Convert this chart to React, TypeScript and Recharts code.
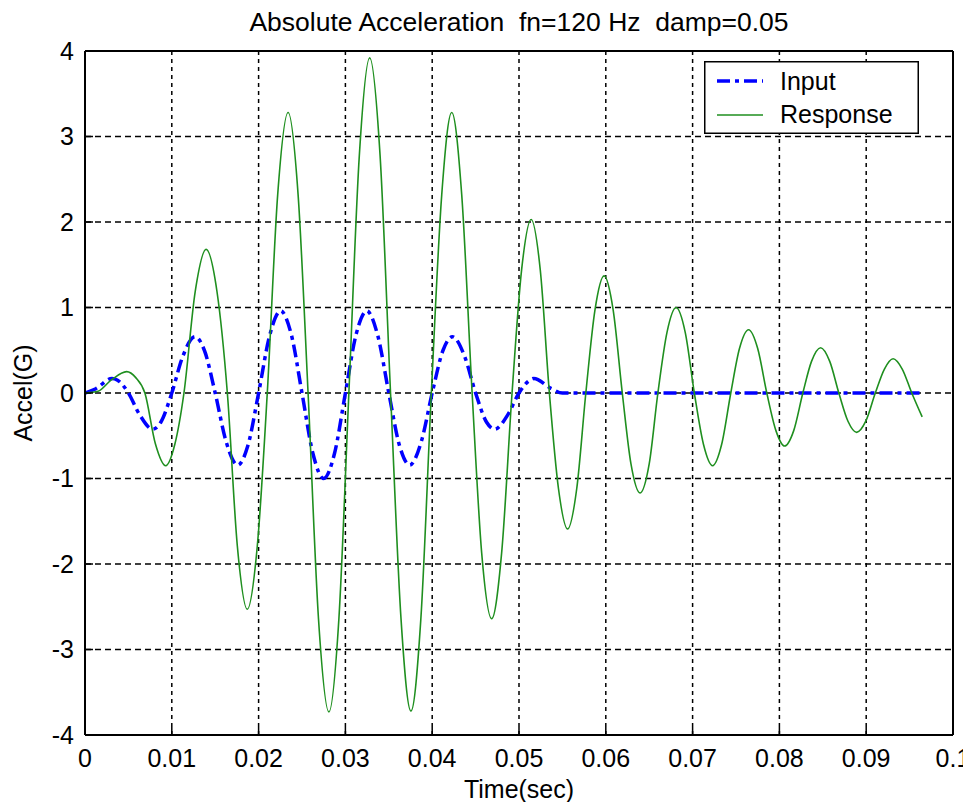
import React from 'react';
import { LineChart, Line, XAxis, YAxis, CartesianGrid, Legend } from 'recharts';

// ---- data (time in seconds, acceleration in G) ----
const inputTime = [
  0, 0.00125, 0.0031, 0.00375, 0.005, 0.00625, 0.0078, 0.00875, 0.01,
  0.01125, 0.01267, 0.01375, 0.015, 0.01625, 0.01759, 0.01875, 0.02,
  0.02125, 0.02254, 0.02375, 0.025, 0.02625, 0.0275, 0.02875, 0.03,
  0.03125, 0.03246, 0.03375, 0.035, 0.03625, 0.03741, 0.03875, 0.04,
  0.04125, 0.04233, 0.04375, 0.045, 0.04625, 0.0472, 0.04875, 0.05,
  0.05125, 0.0517, 0.05375, 0.055, 0.0964,
];
const inputAccel = [
  0, 0.05, 0.17, 0.15, 0, -0.247, -0.423, -0.339, 0,
  0.424, 0.658, 0.5, 0, -0.566, -0.843, -0.621, 0,
  0.663, 0.96, 0.691, 0, -0.705, -1.0, -0.705, 0,
  0.691, 0.96, 0.663, 0, -0.621, -0.843, -0.566, 0,
  0.5, 0.658, 0.424, 0, -0.339, -0.423, -0.247, 0,
  0.15, 0.17, 0.05, 0, 0,
];

const responseTime = [
  0, 0.0015, 0.003, 0.0048, 0.00585, 0.0069, 0.0081, 0.0093, 0.01035,
  0.0114, 0.0127, 0.01395, 0.0152, 0.0164, 0.01755, 0.0187, 0.01985,
  0.021, 0.0222, 0.0234, 0.02455, 0.0257, 0.0269, 0.0281, 0.02925,
  0.0304, 0.0316, 0.0328, 0.034, 0.0352, 0.0364, 0.03755, 0.0387,
  0.0399, 0.0411, 0.04225, 0.0434, 0.0446, 0.0457, 0.04685, 0.048,
  0.0492, 0.0503, 0.0514, 0.05245, 0.0535, 0.05455, 0.0556, 0.05665,
  0.0577, 0.05875, 0.0598, 0.06085, 0.0619, 0.0629, 0.06395, 0.065,
  0.066, 0.06705, 0.0681, 0.06915, 0.0702, 0.07125, 0.0723, 0.07335,
  0.0744, 0.0754, 0.07645, 0.0775, 0.07855, 0.0796, 0.0806, 0.08165,
  0.0827, 0.0837, 0.08475, 0.0858, 0.08685, 0.0879, 0.0889, 0.08995,
  0.09105, 0.0921, 0.0931, 0.09415, 0.09525, 0.09645,
];
const responseAccel = [
  0, 0.02, 0.15, 0.25, 0.18, 0, -0.59, -0.85, -0.6,
  0, 1.19, 1.68, 1.19, 0, -1.79, -2.53, -1.79,
  0, 2.32, 3.28, 2.32, 0, -2.64, -3.73, -2.64,
  0, 2.77, 3.92, 2.77, 0, -2.63, -3.72, -2.63,
  0, 2.32, 3.28, 2.32, 0, -1.87, -2.64, -1.87,
  0, 1.44, 2.03, 1.44, 0, -1.12, -1.59, -1.12,
  0, 0.97, 1.37, 0.97, 0, -0.83, -1.17, -0.83,
  0, 0.71, 1.0, 0.71, 0, -0.6, -0.85, -0.6,
  0, 0.52, 0.74, 0.52, 0, -0.44, -0.62, -0.44,
  0, 0.37, 0.53, 0.37, 0, -0.33, -0.46, -0.33,
  0, 0.28, 0.4, 0.28, 0, -0.28,
];

const xTicks = [0, 0.01, 0.02, 0.03, 0.04, 0.05, 0.06, 0.07, 0.08, 0.09, 0.1];
const yTicks = [-4, -3, -2, -1, 0, 1, 2, 3, 4];

const seriesNames = ['Input', 'Response'];
const titleText = 'Absolute Acceleration \u00A0fn=120 Hz \u00A0damp=0.05';
const xLabel = 'Time(sec)';
const yLabel = 'Accel(G)';

const inputData = inputTime.map((t, i) => ({ t, v: inputAccel[i] }));
const responseData = responseTime.map((t, i) => ({ t, v: responseAccel[i] }));

const FONT = "'Liberation Sans', Arial, Helvetica, sans-serif";
const BLUE = '#0000ff';
const GREEN = '#1f8f1f';
const INPUT_DASH = '13 5 4 5';

const LegendBox = () => (
  <svg width={215} height={73} style={{ display: 'block' }}>
    <rect x={0.75} y={0.75} width={213.5} height={71.5} fill="#fff" stroke="#000" strokeWidth={1.5} />
    <line x1={13} x2={59} y1={20} y2={20} stroke={BLUE} strokeWidth={3.5} strokeDasharray={INPUT_DASH} />
    <text x={76} y={29} fontSize={25} fontFamily={FONT} fill="#000">{seriesNames[0]}</text>
    <line x1={13} x2={59} y1={54} y2={54} stroke={GREEN} strokeWidth={1.5} />
    <text x={76} y={62} fontSize={25} fontFamily={FONT} fill="#000">{seriesNames[1]}</text>
  </svg>
);

export default function App() {
  const tickStyle = { fill: '#000', fontSize: 25 };
  const axisLineStyle = { stroke: '#000', strokeWidth: 2 };
  const tickLineStyle = { stroke: '#000', strokeWidth: 1.5 };
  return (
    <div style={{ fontFamily: FONT, width: 963, height: 794, background: '#fff' }}>
      <LineChart width={963} height={794} margin={{ top: 42, right: 17, bottom: 37, left: 17 }}>
        <CartesianGrid xAxisId={0} yAxisId={0} horizontal={true} vertical={false} stroke="#000" strokeWidth={1.5} strokeDasharray="6 4" />
        <CartesianGrid xAxisId={0} yAxisId={0} horizontal={false} vertical={true} stroke="#000" strokeWidth={1.5} strokeDasharray="4 4" />
        <XAxis
          xAxisId={0}
          dataKey="t"
          type="number"
          domain={[0, 0.1]}
          ticks={xTicks}
          interval={0}
          allowDataOverflow
          tickFormatter={(v: number) => String(v)}
          tickSize={-8}
          tickMargin={22}
          height={30}
          axisLine={axisLineStyle}
          tickLine={tickLineStyle}
          tick={tickStyle}
          label={{ value: xLabel, position: 'bottom', offset: 15, fill: '#000', fontSize: 25 }}
        />
        <XAxis
          xAxisId="top"
          orientation="top"
          dataKey="t"
          type="number"
          domain={[0, 0.1]}
          ticks={xTicks}
          interval={0}
          allowDataOverflow
          tickSize={-8}
          height={1}
          axisLine={axisLineStyle}
          tickLine={tickLineStyle}
          tick={false}
          label={{ value: titleText, position: 'top', offset: 19, fill: '#000', fontSize: 26.5 }}
        />
        <YAxis
          yAxisId={0}
          type="number"
          domain={[-4, 4]}
          ticks={yTicks}
          interval={0}
          allowDataOverflow
          tickSize={-8}
          tickMargin={19}
          width={60}
          axisLine={axisLineStyle}
          tickLine={tickLineStyle}
          tick={tickStyle}
          label={{ value: yLabel, angle: -90, position: 'insideLeft', offset: -2, fill: '#000', fontSize: 25, style: { textAnchor: 'middle' } }}
        />
        <YAxis
          yAxisId="right"
          orientation="right"
          type="number"
          domain={[-4, 4]}
          ticks={yTicks}
          interval={0}
          allowDataOverflow
          tickSize={-8}
          width={1}
          axisLine={axisLineStyle}
          tickLine={tickLineStyle}
          tick={false}
        />
        <Line
          xAxisId={0}
          yAxisId={0}
          data={inputData}
          dataKey="v"
          name={seriesNames[0]}
          type="monotone"
          stroke={BLUE}
          strokeWidth={3.5}
          strokeDasharray={INPUT_DASH}
          dot={false}
          activeDot={false}
          isAnimationActive={false}
        />
        <Line
          xAxisId={0}
          yAxisId={0}
          data={responseData}
          dataKey="v"
          name={seriesNames[1]}
          type="monotone"
          stroke={GREEN}
          strokeWidth={1.6}
          dot={false}
          activeDot={false}
          isAnimationActive={false}
        />
        <Legend
          layout="vertical"
          align="center"
          verticalAlign="middle"
          content={() => <LegendBox />}
          wrapperStyle={{ position: 'absolute', left: 696, top: 53, width: 215, height: 73 }}
        />
      </LineChart>
    </div>
  );
}
